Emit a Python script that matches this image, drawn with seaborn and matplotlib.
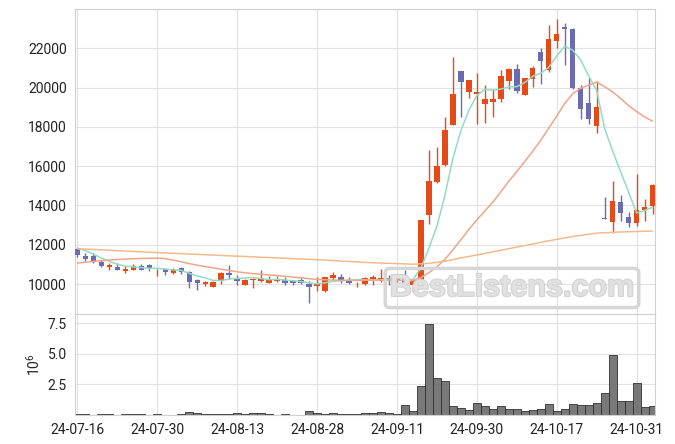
import numpy as np
import pandas as pd
import matplotlib
matplotlib.use("Agg")
import matplotlib.pyplot as plt
import matplotlib.patheffects as pe
import seaborn as sns

# tick labels (every 10th trading day)
tick_days = [0, 10, 20, 30, 40, 50, 60, 70]
tick_labels = ["24-07-16", "24-07-30", "24-08-13", "24-08-28",
               "24-09-11", "24-09-30", "24-10-17", "24-10-31"]

opens = [11800, 11450, 11440, 11130, 10880, 10880, 10640, 10740, 10930, 10960,
         10700, 10790, 10540, 10810, 10620, 10220, 9980, 9860, 10135, 10575,
         10320, 9970, 10200, 10170, 10070, 10135, 10220, 10135, 10185, 10015,
         9880, 9625, 10285, 10370, 10170, 10030, 10015, 10270, 10135, 10305,
         10135, 10270, 9970, 10180, 13490, 15200, 16070, 18100, 20850, 19790,
         19690, 19170, 19260, 19410, 20350, 20950, 19630, 20440, 21830, 20900,
         22370, 23100, 23000, 19970, 19200, 18050, 13340, 13170, 14170, 13410,
         13130, 13780, 13950]
highs = [11850, 11590, 11570, 11200, 11080, 11050, 10900, 11000, 11000, 11000,
         10750, 10830, 10810, 10850, 10680, 10240, 10180, 10130, 10610, 10950,
         10440, 10240, 10300, 10730, 10420, 10400, 10340, 10150, 10290, 10135,
         10360, 10370, 10610, 10510, 10360, 10100, 10360, 10470, 10760, 10460,
         10500, 10740, 10230, 13270, 16830, 17000, 18490, 21570, 20850, 20390,
         20730, 20130, 19920, 20900, 20980, 21200, 20500, 21100, 22000, 23190,
         23480, 23270, 23020, 20130, 20480, 20340, 14420, 15250, 14540, 13680,
         15610, 14320, 15100]
lows = [11400, 11150, 11090, 10860, 10710, 10710, 10540, 10690, 10690, 10650,
        10400, 10480, 10510, 10510, 9800, 9710, 9910, 9830, 10000, 10270,
        9930, 9940, 9800, 10100, 10030, 10100, 9970, 9930, 10000, 9030,
        9660, 9600, 10220, 10030, 10000, 9850, 9970, 9970, 10100, 9970,
        10100, 9800, 9620, 10150, 13050, 15140, 16010, 18100, 18520, 19460,
        18150, 18220, 18520, 19290, 19920, 19740, 19600, 20050, 20190, 20780,
        22000, 21150, 19920, 18390, 18140, 17680, 13300, 12620, 13230, 12900,
        12970, 13220, 13580]
closes = [11500, 11250, 11150, 10900, 10980, 10740, 10790, 10930, 10740, 10800,
          10730, 10610, 10730, 10590, 10080, 10030, 10120, 10100, 10575, 10460,
          10170, 10220, 10250, 10290, 10185, 10250, 10050, 10070, 10070, 9860,
          9980, 10335, 10470, 10200, 10030, 10065, 10305, 10370, 10305, 10170,
          10470, 9970, 10220, 13270, 15220, 16010, 17850, 19670, 20300, 20390,
          19790, 19410, 19440, 20590, 20950, 19850, 20475, 21000, 21370, 22470,
          22740, 22970, 19970, 18900, 18390, 19000, 13300, 14240, 13640, 13130,
          13780, 13930, 15050]
# volume in millions
volumes = [0.08, 0.08, 0.03, 0.08, 0.08, 0.03, 0.08, 0.08, 0.08, 0.03,
           0.08, 0.03, 0.03, 0.08, 0.24, 0.16, 0.08, 0.08, 0.08, 0.08,
           0.16, 0.08, 0.16, 0.16, 0.08, 0.03, 0.08, 0.03, 0.03, 0.33,
           0.20, 0.08, 0.16, 0.08, 0.08, 0.08, 0.15, 0.14, 0.24, 0.14,
           0.05, 0.79, 0.33, 2.33, 7.47, 2.99, 2.77, 0.71, 0.54, 0.41,
           0.95, 0.71, 0.49, 0.71, 0.49, 0.49, 0.33, 0.41, 0.49, 0.87,
           0.33, 0.49, 0.87, 0.79, 0.79, 0.95, 1.79, 4.89, 1.14, 1.14,
           2.61, 0.65, 0.73]

ma5 = [11830, 11700, 11520, 11320, 11156, 11004, 10912, 10868, 10836, 10800,
       10798, 10762, 10722, 10692, 10548, 10408, 10310, 10184, 10181, 10257,
       10285, 10305, 10335, 10278, 10223, 10239, 10205, 10169, 10125, 10060,
       10006, 10063, 10143, 10169, 10203, 10220, 10214, 10194, 10215, 10243,
       10324, 10257, 10227, 10820, 11830, 12938, 14514, 16404, 17810, 18844,
       19600, 19912, 19866, 19924, 20036, 20048, 20261, 20573, 20729, 21033,
       21611, 22110, 21904, 21410, 20594, 19846, 17912, 16766, 15714, 14662,
       13618, 13744, 13906]
ma20 = [11070, 11110, 11150, 11190, 11220, 11250, 11270, 11290, 11300, 11310,
        11320, 11290, 11220, 11130, 11040, 10960, 10890, 10820, 10750, 10690,
        10624, 10572, 10527, 10497, 10457, 10432, 10395, 10352, 10319, 10272,
        10234, 10220, 10207, 10188, 10185, 10187, 10196, 10210, 10196, 10182,
        10197, 10184, 10182, 10331, 10583, 10871, 11261, 11741, 12253, 12779,
        13270, 13723, 14172, 14692, 15238, 15727, 16235, 16767, 17320, 17935,
        18548, 19198, 19686, 19967, 20126, 20276, 20048, 19777, 19444, 19081,
        18780, 18506, 18287]
ma_long_days = [0, 10, 20, 30, 36, 42, 44, 46, 48, 50, 53, 56, 59, 62, 65, 68, 72]
ma_long = [11800, 11600, 11420, 11240, 11100, 11010, 11050, 11160, 11330, 11480,
           11720, 11960, 12200, 12420, 12590, 12650, 12700]

RED = "#e64a19"
BLUE = "#6b6bb2"

sns.set_theme(style="whitegrid", rc={
    "grid.color": "#e2e2e2", "grid.linewidth": 0.8,
    "axes.edgecolor": "#d0d0d0", "axes.linewidth": 0.8,
    "xtick.color": "#222222", "ytick.color": "#222222",
})
plt.rcParams["font.family"] = ["Roboto", "DejaVu Sans"]
plt.rcParams["mathtext.fontset"] = "custom"
plt.rcParams["mathtext.rm"] = "Roboto"

df = pd.DataFrame({"day": np.arange(len(closes)), "open": opens, "high": highs,
                   "low": lows, "close": closes, "volume": volumes,
                   "ma5": ma5, "ma20": ma20})

fig = plt.figure(figsize=(6.75, 4.44), dpi=100)
ax = fig.add_axes([0.1111, 0.2928, 0.8593, 0.6869])
ax2 = fig.add_axes([0.1111, 0.0653, 0.8593, 0.2275], sharex=ax)

# candles
up = df["close"] >= df["open"]
colors = np.where(up, RED, BLUE)
ax.vlines(df["day"], df["low"], df["high"], colors=colors, linewidth=1, zorder=3)
body_lo = np.minimum(df["open"], df["close"])
body_h = np.maximum((df["close"] - df["open"]).abs(), 40)
ax.bar(df["day"], body_h, bottom=body_lo, width=0.68, color=colors, linewidth=0, zorder=3)

# moving averages
sns.lineplot(data=df, x="day", y="ma5", ax=ax, color="#93dcc3", linewidth=1.1, zorder=4)
sns.lineplot(data=df, x="day", y="ma20", ax=ax, color="#efa688", linewidth=1.1, zorder=4)
sns.lineplot(x=ma_long_days, y=ma_long, ax=ax, color="#f3ba8c", linewidth=1.1, zorder=4)

ax.set_ylim(8475, 24000)
ax.set_yticks(range(10000, 22001, 2000))
ax.set_xlabel("")
ax.set_ylabel("")
ax.tick_params(axis="both", length=0, pad=6, labelsize=10)
plt.setp(ax.get_xticklabels(), visible=False)

# volume
sns.barplot(data=df, x="day", y="volume", ax=ax2, native_scale=True, width=1.0,
            color="#666666", saturation=1, edgecolor="#333333", linewidth=0.7, alpha=0.88)
ax2.set_ylim(0, 8.25)
ax2.set_yticks([2.5, 5.0, 7.5])
ax2.set_yticklabels(["2.5", "5.0", "7.5"])
ax2.set_xlabel("")
ax2.set_ylabel("$10^6$", fontsize=10, color="#222222")
ax2.yaxis.set_label_coords(-0.055, 0.5)
ax2.tick_params(axis="both", length=0, pad=6, labelsize=10)

ax2.set_xticks(tick_days)
ax2.set_xticklabels(tick_labels)
ax2.set_xlim(-0.3, 72.3)
for a in (ax, ax2):
    a.grid(True)
    a.set_axisbelow(True)

# watermark
fig.text(0.7585, 0.3514, "BestListens.com", ha="center", va="center",
         fontsize=22, fontweight="bold", family="Liberation Sans",
         color="#e2e2e2", alpha=0.9, zorder=10,
         path_effects=[pe.withStroke(linewidth=1.5, foreground="#cfcfcf")],
         bbox=dict(boxstyle="round,pad=0.15", fc="none", ec="#d6d6d6", lw=2.5))

fig.savefig("out.png", dpi=100)
